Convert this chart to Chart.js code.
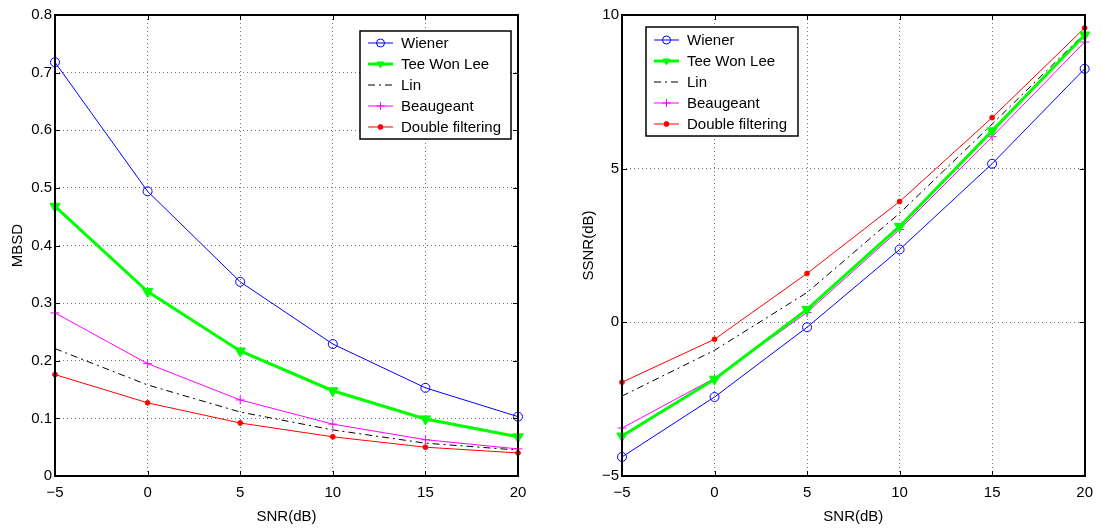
<!DOCTYPE html>
<html>
<head>
<meta charset="utf-8">
<script src="https://cdn.jsdelivr.net/npm/chart.js@4/dist/chart.umd.min.js"></script>
<style>
  html, body { margin: 0; padding: 0; background: #fff; }
  #wrap { position: relative; width: 1101px; height: 528px; overflow: hidden; }
  #left { position: absolute; left: 0; top: 0; }
  #right { position: absolute; left: 550px; top: 0; }
</style>
</head>
<body>
<div id="wrap">
  <canvas id="left" width="550" height="528"></canvas>
  <canvas id="right" width="551" height="528"></canvas>
</div>
<script>
// ---------- Data ----------
const snr = [-5, 0, 5, 10, 15, 20];
const seriesNames = ['Wiener', 'Tee Won Lee', 'Lin', 'Beaugeant', 'Double filtering'];

// left panel: MBSD
const mbsdWiener    = [0.718, 0.494, 0.337, 0.229, 0.153, 0.103];
const mbsdTeeWonLee = [0.468, 0.320, 0.217, 0.148, 0.099, 0.068];
const mbsdLin       = [0.221, 0.158, 0.111, 0.080, 0.057, 0.045];
const mbsdBeaugeant = [0.283, 0.195, 0.132, 0.090, 0.063, 0.047];
const mbsdDouble    = [0.176, 0.127, 0.092, 0.068, 0.050, 0.040];

// right panel: SSNR(dB)
const ssnrWiener    = [-4.38, -2.43, -0.16, 2.37, 5.16, 8.25];
const ssnrTeeWonLee = [-3.70, -1.85, 0.42, 3.12, 6.23, 9.35];
const ssnrLin       = [-2.40, -0.91, 0.97, 3.55, 6.45, 9.40];
const ssnrBeaugeant = [-3.44, -1.82, 0.32, 3.02, 6.04, 9.12];
const ssnrDouble    = [-1.95, -0.55, 1.59, 3.93, 6.66, 9.58];

const FONT = '"Liberation Sans", Arial, Helvetica, sans-serif';

// ---------- Series styles (matlab-ish) ----------
function seriesStyles() {
  return [
    { borderColor: '#0000ff', borderWidth: 1, pointStyle: 'circle', pointRadius: 4.5,
      pointBackgroundColor: 'rgba(0,0,0,0)', pointBorderColor: '#0000ff', pointBorderWidth: 1 },
    { borderColor: '#00ff00', borderWidth: 3, pointStyle: 'triangle', pointRotation: 180, pointRadius: 6,
      pointBackgroundColor: '#00ff00', pointBorderColor: '#00ff00', pointBorderWidth: 1 },
    { borderColor: '#000000', borderWidth: 1, borderDash: [7, 4, 2, 4], pointRadius: 0 },
    { borderColor: '#ff00ff', borderWidth: 1, pointStyle: 'cross', pointRadius: 4.5,
      pointBackgroundColor: '#ff00ff', pointBorderColor: '#ff00ff', pointBorderWidth: 1 },
    { borderColor: '#ff0000', borderWidth: 1, pointStyle: 'circle', pointRadius: 2.4,
      pointBackgroundColor: '#ff0000', pointBorderColor: '#ff0000', pointBorderWidth: 1 }
  ];
}

function makeDatasets(seriesList) {
  const styles = seriesStyles();
  return seriesList.map((vals, i) => Object.assign({
    label: seriesNames[i],
    data: snr.map((x, j) => ({ x: x, y: vals[j] })),
    fill: false,
    tension: 0,
    clip: false,
    pointHoverRadius: 0
  }, styles[i]));
}

// ---------- Plugins ----------
// box round the plot with small inward ticks
const framePlugin = {
  id: 'frame',
  afterDatasetsDraw(chart) {
    const { ctx, chartArea: a } = chart;
    const xs = chart.scales.x, ys = chart.scales.y;
    ctx.save();
    ctx.strokeStyle = '#000';
    ctx.lineWidth = 1;
    ctx.setLineDash([]);
    ctx.beginPath();
    xs.ticks.forEach(t => {
      const px = Math.round(xs.getPixelForValue(t.value)) + 0.5;
      ctx.moveTo(px, a.bottom); ctx.lineTo(px, a.bottom - 5);
      ctx.moveTo(px, a.top); ctx.lineTo(px, a.top + 5);
    });
    ys.ticks.forEach(t => {
      const py = Math.round(ys.getPixelForValue(t.value)) + 0.5;
      ctx.moveTo(a.left, py); ctx.lineTo(a.left + 5, py);
      ctx.moveTo(a.right, py); ctx.lineTo(a.right - 5, py);
    });
    ctx.stroke();
    ctx.lineWidth = 2;
    ctx.strokeRect(Math.round(a.left), Math.round(a.top), Math.round(a.right - a.left), Math.round(a.bottom - a.top));
    ctx.restore();
  }
};

// matlab-style legend box inside the axes
const boxLegendPlugin = {
  id: 'boxLegend',
  afterDraw(chart, args, opts) {
    const ctx = chart.ctx;
    ctx.save();
    ctx.fillStyle = '#fff';
    ctx.fillRect(opts.x, opts.y, opts.w, opts.h);
    ctx.strokeStyle = '#000';
    ctx.lineWidth = 1.5;
    ctx.strokeRect(opts.x, opts.y, opts.w, opts.h);
    ctx.font = '15px ' + FONT;
    ctx.textBaseline = 'middle';
    chart.data.datasets.forEach((ds, i) => {
      const cy = opts.y + opts.first + i * opts.step;
      ctx.strokeStyle = ds.borderColor;
      ctx.lineWidth = ds.borderWidth;
      ctx.setLineDash(ds.borderDash || []);
      ctx.beginPath();
      ctx.moveTo(opts.x + 8, cy);
      ctx.lineTo(opts.x + 33, cy);
      ctx.stroke();
      ctx.setLineDash([]);
      if (ds.pointRadius > 0) {
        ctx.fillStyle = ds.pointBackgroundColor;
        ctx.strokeStyle = ds.pointBorderColor;
        ctx.lineWidth = ds.pointBorderWidth;
        Chart.helpers.drawPoint(ctx, {
          pointStyle: ds.pointStyle,
          rotation: ds.pointRotation || 0,
          radius: Math.min(ds.pointRadius, 4),
          borderWidth: ds.pointBorderWidth
        }, opts.x + 20.5, cy);
      }
      ctx.fillStyle = '#000';
      ctx.fillText(ds.label, opts.x + 41, cy + 1);
    });
    ctx.restore();
  }
};

function minus(v) { return String(v).replace('-', '\u2212'); }

function makeChart(canvasId, seriesList, cfg) {
  return new Chart(document.getElementById(canvasId), {
    type: 'line',
    data: { datasets: makeDatasets(seriesList) },
    plugins: [framePlugin, boxLegendPlugin],
    options: {
      responsive: false,
      animation: false,
      events: [],
      layout: { padding: { top: 15, right: cfg.padRight, left: 0, bottom: 0 } },
      scales: {
        x: {
          type: 'linear',
          min: -5, max: 20,
          afterBuildTicks: s => { s.ticks = snr.map(v => ({ value: v })); },
          afterFit: s => { s.height = 52; },
          grid: { color: 'rgba(0,0,0,0.55)', lineWidth: 1, drawTicks: false },
          border: { display: false, dash: [1, 3] },
          ticks: { color: '#000', padding: 8, font: { family: FONT, size: 15 }, callback: v => minus(v) },
          title: { display: true, text: 'SNR(dB)', color: '#000', font: { family: FONT, size: 15 }, padding: { top: 0, bottom: 2 } }
        },
        y: {
          type: 'linear',
          min: cfg.yMin, max: cfg.yMax,
          afterBuildTicks: s => { s.ticks = cfg.yTicks.map(v => ({ value: v })); },
          afterFit: s => { s.width = cfg.yWidth; },
          grid: { color: 'rgba(0,0,0,0.55)', lineWidth: 1, drawTicks: false },
          border: { display: false, dash: [1, 3] },
          ticks: { color: '#000', padding: 3, font: { family: FONT, size: 15 }, callback: v => minus(v) },
          title: { display: true, text: cfg.yTitle, color: '#000', font: { family: FONT, size: 15 }, padding: { top: cfg.titlePad, bottom: 0 } }
        }
      },
      plugins: {
        legend: { display: false },
        tooltip: { enabled: false },
        boxLegend: cfg.legend
      }
    }
  });
}

const mbsdTicks = [0, 0.1, 0.2, 0.3, 0.4, 0.5, 0.6, 0.7, 0.8];
const ssnrTicks = [-5, 0, 5, 10];

makeChart('left',
  [mbsdWiener, mbsdTeeWonLee, mbsdLin, mbsdBeaugeant, mbsdDouble],
  { yMin: 0, yMax: 0.8, yTicks: mbsdTicks, yTitle: 'MBSD', yWidth: 55, padRight: 32, titlePad: 9,
    legend: { x: 360, y: 31, w: 151, h: 108, first: 12, step: 21 } });

makeChart('right',
  [ssnrWiener, ssnrTeeWonLee, ssnrLin, ssnrBeaugeant, ssnrDouble],
  { yMin: -5, yMax: 10, yTicks: ssnrTicks, yTitle: 'SSNR(dB)', yWidth: 72, padRight: 12, titlePad: 30,
    legend: { x: 96, y: 27, w: 152, h: 109, first: 13, step: 21 } });
</script>
</body>
</html>
